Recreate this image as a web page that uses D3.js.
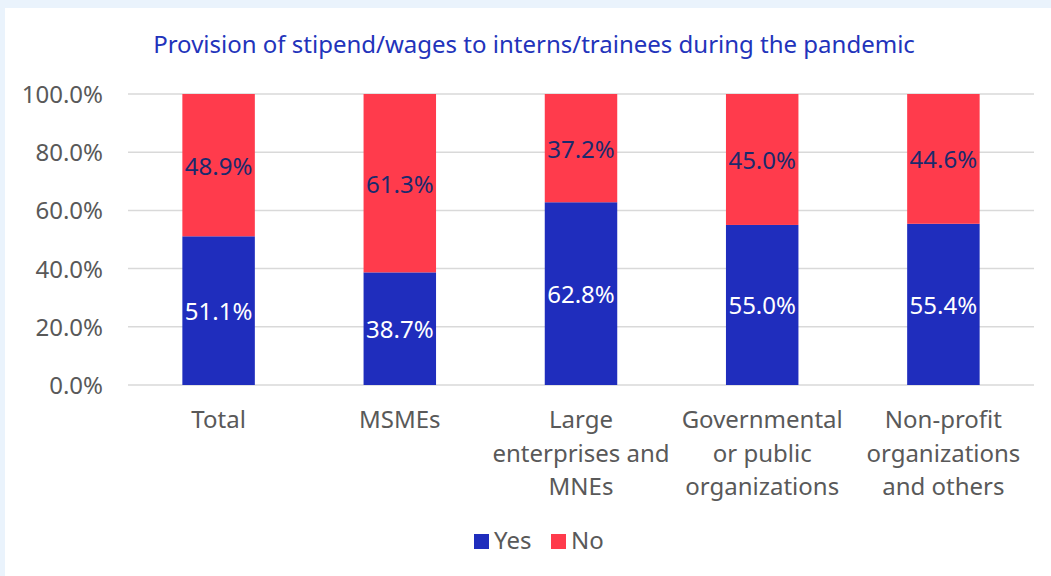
<!DOCTYPE html>
<html><head><meta charset="utf-8">
<script src="https://cdn.jsdelivr.net/npm/d3@7"></script>
<style>
html,body{margin:0;padding:0;background:#eaf3fc;}
svg{display:block;}
text{font-family:"Noto Sans","Open Sans",sans-serif;}
</style></head>
<body><svg id="c" width="1051" height="576"></svg>
<script>
const categories = [["Total"],["MSMEs"],["Large","enterprises and","MNEs"],["Governmental","or public","organizations"],["Non-profit","organizations","and others"]];
const yesValues = [51.1, 38.7, 62.8, 55.0, 55.4];
const noValues = [48.9, 61.3, 37.2, 45.0, 44.6];
const yTicks = [0,20,40,60,80,100];
const seriesNames = ["Yes","No"];
const colors = {Yes:"#1f2dbd", No:"#ff3b4c"};
const title = "Provision of stipend/wages to interns/trainees during the pandemic";

const FS = 24;
const svg = d3.select("#c");
svg.append("rect").attr("x",5).attr("y",8).attr("width",1046).attr("height",568).attr("fill","#fff");

const pLeft=128, pRight=1034, pTop=94, pBottom=385;
const x = d3.scaleBand().domain(d3.range(categories.length)).range([pLeft,pRight]).paddingInner(0.6).paddingOuter(0.3);
const y = d3.scaleLinear().domain([0,100]).range([pBottom,pTop]);

svg.append("text").attr("x",534).attr("y",53).attr("text-anchor","middle")
  .attr("font-size",FS).attr("fill","#2233bb").text(title);

// grid
svg.append("g").selectAll("line").data(yTicks).join("line")
  .attr("x1",pLeft).attr("x2",pRight).attr("y1",d=>y(d)).attr("y2",d=>y(d))
  .attr("stroke","#d9d9d9").attr("stroke-width",1.5);

// y axis labels
const yAxis = d3.axisLeft(y).tickValues(yTicks).tickFormat(d=>d.toFixed(1)+"%").tickSize(0).tickPadding(0);
const ga = svg.append("g").attr("transform",`translate(${103},0)`).call(yAxis);
ga.select(".domain").remove();
ga.selectAll("text").attr("font-size",FS).attr("fill","#595959").attr("font-family","'Noto Sans','Open Sans',sans-serif").attr("dy","0.35em");

const stackData = categories.map((c,i)=>({i, Yes:yesValues[i], No:noValues[i]}));
const stack = d3.stack().keys(seriesNames)(stackData);

const g = svg.append("g");
stack.forEach(s=>{
  g.append("g").selectAll("rect").data(s).join("rect")
   .attr("x",d=>x(d.data.i)).attr("width",x.bandwidth())
   .attr("y",d=>y(d[1])).attr("height",d=>y(d[0])-y(d[1]))
   .attr("fill",colors[s.key]);
  g.append("g").selectAll("text").data(s).join("text")
   .attr("x",d=>x(d.data.i)+x.bandwidth()/2).attr("y",d=>y((d[0]+d[1])/2)+1)
   .attr("dy","0.35em").attr("text-anchor","middle").attr("font-size",FS)
   .attr("fill", s.key==="Yes" ? "#ffffff" : "#1a2a6c")
   .text(d=>(d[1]-d[0]).toFixed(1)+"%");
});

// x labels
const xl = svg.append("g");
categories.forEach((lines,i)=>{
  const t = xl.append("text").attr("x",x(i)+x.bandwidth()/2).attr("y",428)
    .attr("text-anchor","middle").attr("font-size",FS).attr("fill","#595959");
  lines.forEach((ln,j)=>t.append("tspan").attr("x",x(i)+x.bandwidth()/2).attr("dy",j===0?0:33.5).text(ln));
});

// legend
const lg = svg.append("g");
const items = [{k:"Yes",x:474},{k:"No",x:551}];
items.forEach(it=>{
  lg.append("rect").attr("x",it.x).attr("y",534).attr("width",15).attr("height",15).attr("fill",colors[it.k]);
  lg.append("text").attr("x",it.x+20).attr("y",549).attr("font-size",FS).attr("fill","#595959").text(it.k);
});
</script></body></html>
